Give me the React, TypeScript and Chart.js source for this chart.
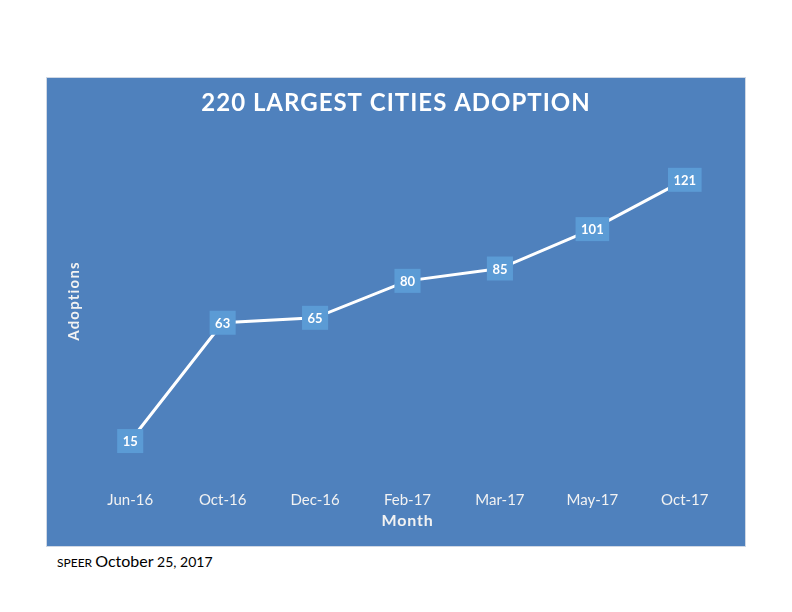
import React, { useEffect, useRef } from "react";
import { Chart, registerables } from "chart.js";

Chart.register(...registerables);

const categories = ["Jun-16", "Oct-16", "Dec-16", "Feb-17", "Mar-17", "May-17", "Oct-17"];
const adoptions = [15, 63, 65, 80, 85, 101, 121];
const chartTitle = "220 LARGEST CITIES ADOPTION";
const xTitle = "Month";
const yTitle = "Adoptions";

const FONT = "Lato, 'Open Sans', sans-serif";

const labelPlugin = {
  id: "boxLabels",
  afterDatasetsDraw(chart: any) {
    const ctx = chart.ctx;
    const meta = chart.getDatasetMeta(0);
    ctx.save();
    ctx.font = `bold 13px ${FONT}`;
    ctx.textAlign = "center";
    ctx.textBaseline = "middle";
    meta.data.forEach((pt: any, i: number) => {
      const txt = String(adoptions[i]);
      const w = ctx.measureText(txt).width + 11;
      const h = 24;
      ctx.fillStyle = "#5b9bd5";
      ctx.fillRect(pt.x - w / 2, pt.y - h / 2, w, h);
      ctx.fillStyle = "#ffffff";
      ctx.fillText(txt, pt.x, pt.y + 1);
    });
    ctx.restore();
  },
};

const titlesPlugin = {
  id: "titles",
  afterDraw(chart: any) {
    const ctx = chart.ctx;
    const area = chart.chartArea;
    const cx = chart.width / 2;
    ctx.save();
    ctx.fillStyle = "#ffffff";
    ctx.textAlign = "center";
    ctx.textBaseline = "middle";
    (ctx as any).letterSpacing = "1px";
    ctx.font = `bold 24px ${FONT}`;
    ctx.fillText(chartTitle, cx, 25);
    (ctx as any).letterSpacing = "0.8px";
    ctx.font = `bold 16px ${FONT}`;
    ctx.fillStyle = "#f2f2f2";
    ctx.fillText(xTitle, (area.left + area.right) / 2, 443);
    ctx.translate(27, 223);
    ctx.rotate(-Math.PI / 2);
    (ctx as any).letterSpacing = "1.2px";
    ctx.font = `bold 15px ${FONT}`;
    ctx.fillText(yTitle, 0, 0);
    ctx.restore();
  },
};

export default function App() {
  const ref = useRef<HTMLCanvasElement>(null);
  useEffect(() => {
    if (!ref.current) return;
    const chart = new Chart(ref.current, {
      type: "line",
      data: {
        labels: categories,
        datasets: [
          {
            data: adoptions,
            borderColor: "#ffffff",
            borderWidth: 3,
            pointRadius: 0,
            tension: 0,
          },
        ],
      },
      options: {
        responsive: false,
        animation: false,
        layout: { padding: { left: 37, right: 14, top: 55, bottom: 24 } },
        plugins: {
          legend: { display: false },
          tooltip: { enabled: false },
          title: { display: false },
        },
        scales: {
          x: {
            offset: true,
            grid: { display: false, drawTicks: false },
            border: { display: false },
            ticks: { color: "#f2f2f2", font: { family: FONT, size: 15 }, padding: 13 },
            title: { display: false },
          },
          y: {
            display: false,
            min: 0,
            max: 140,
          },
        },
      },
      plugins: [labelPlugin, titlesPlugin],
    });
    return () => chart.destroy();
  }, []);

  return (
    <div style={{ position: "absolute", left: 0, top: 0, width: 792, height: 612, background: "#ffffff" }}>
      <canvas
        ref={ref}
        width={698}
        height={468}
        style={{
          position: "absolute",
          left: 47,
          top: 78,
          width: 698,
          height: 468,
          background: "#4f81bd",
          boxShadow: "0 0 0 1px #d0d8e4",
        }}
      />
      <div
        style={{
          position: "absolute",
          left: 57,
          top: 551,
          fontFamily: FONT,
          color: "#000000",
          whiteSpace: "nowrap",
        }}
      >
        <span style={{ fontSize: 12 }}>SPEER </span>
        <span style={{ fontSize: 16 }}>October</span>
        <span style={{ fontSize: 14 }}> 25, 2017</span>
      </div>
    </div>
  );
}
